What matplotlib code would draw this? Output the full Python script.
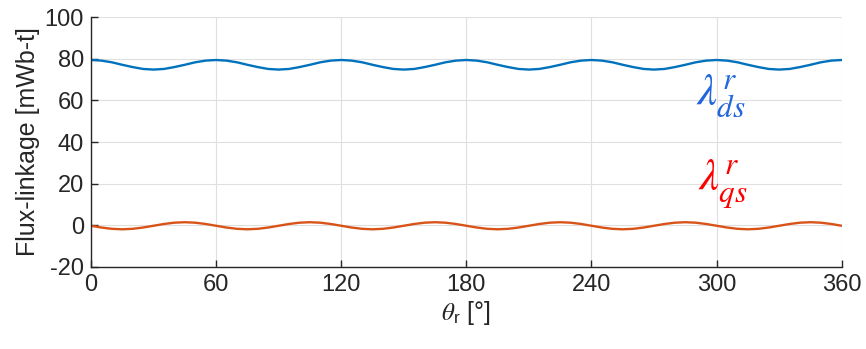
import matplotlib
matplotlib.use("Agg")
import matplotlib.pyplot as plt
import numpy as np

plt.rcParams["font.family"] = ["Liberation Sans", "DejaVu Sans"]
plt.rcParams["mathtext.fontset"] = "stix"
plt.rcParams["axes.unicode_minus"] = False

# rotor angle samples, degrees
theta = np.arange(0, 361, 5)

# d-axis flux linkage, mWb-t (one period = 60 deg)
lam_ds = [
    79.4, 79.1, 78.3, 77.1, 76.0, 75.1, 74.8, 75.1, 76.0, 77.1, 78.3, 79.1,
    79.4, 79.1, 78.3, 77.1, 76.0, 75.1, 74.8, 75.1, 76.0, 77.1, 78.3, 79.1,
    79.4, 79.1, 78.3, 77.1, 76.0, 75.1, 74.8, 75.1, 76.0, 77.1, 78.3, 79.1,
    79.4, 79.1, 78.3, 77.1, 76.0, 75.1, 74.8, 75.1, 76.0, 77.1, 78.3, 79.1,
    79.4, 79.1, 78.3, 77.1, 76.0, 75.1, 74.8, 75.1, 76.0, 77.1, 78.3, 79.1,
    79.4, 79.1, 78.3, 77.1, 76.0, 75.1, 74.8, 75.1, 76.0, 77.1, 78.3, 79.1,
    79.4,
]

# q-axis flux linkage, mWb-t
lam_qs = [
    -0.2, -1.05, -1.67, -1.9, -1.67, -1.05, -0.2, 0.65, 1.27, 1.5, 1.27, 0.65,
    -0.2, -1.05, -1.67, -1.9, -1.67, -1.05, -0.2, 0.65, 1.27, 1.5, 1.27, 0.65,
    -0.2, -1.05, -1.67, -1.9, -1.67, -1.05, -0.2, 0.65, 1.27, 1.5, 1.27, 0.65,
    -0.2, -1.05, -1.67, -1.9, -1.67, -1.05, -0.2, 0.65, 1.27, 1.5, 1.27, 0.65,
    -0.2, -1.05, -1.67, -1.9, -1.67, -1.05, -0.2, 0.65, 1.27, 1.5, 1.27, 0.65,
    -0.2, -1.05, -1.67, -1.9, -1.67, -1.05, -0.2, 0.65, 1.27, 1.5, 1.27, 0.65,
    -0.2,
]

x_ticks = [0, 60, 120, 180, 240, 300, 360]
y_ticks = [-20, 0, 20, 40, 60, 80, 100]

fig = plt.figure(figsize=(8.66, 3.49), dpi=100)
ax = fig.add_axes([0.105, 0.235, 0.867, 0.716])

ax.plot(theta, lam_ds, color="#0072BD", linewidth=1.7)
ax.plot(theta, lam_qs, color="#D95319", linewidth=1.7)

ax.set_xlim(0, 360)
ax.set_ylim(-20, 100)
ax.set_xticks(x_ticks)
ax.set_yticks(y_ticks)
ax.grid(True, color="#DFDFDF", linewidth=0.8)
ax.set_axisbelow(True)

for side in ["top", "right"]:
    ax.spines[side].set_visible(False)
for side in ["left", "bottom"]:
    ax.spines[side].set_color("#262626")
    ax.spines[side].set_linewidth(1.0)
ax.tick_params(direction="in", length=5, width=1.0, colors="#262626",
               labelsize=17, pad=5)

ax.set_ylabel("Flux-linkage [mWb-t]", fontsize=18, color="#262626", labelpad=3)
ax.set_xlabel(r"$\theta_{\mathregular{r}}$ [°]", fontsize=18, color="#262626",
              labelpad=2)

ax.text(302, 62, r"$\lambda_{ds}^{r}$", color="#2266DD", fontsize=32,
        ha="center", va="center")
ax.text(303, 20, r"$\lambda_{qs}^{r}$", color="#FF0000", fontsize=32,
        ha="center", va="center")

fig.savefig("out.png", dpi=100)
